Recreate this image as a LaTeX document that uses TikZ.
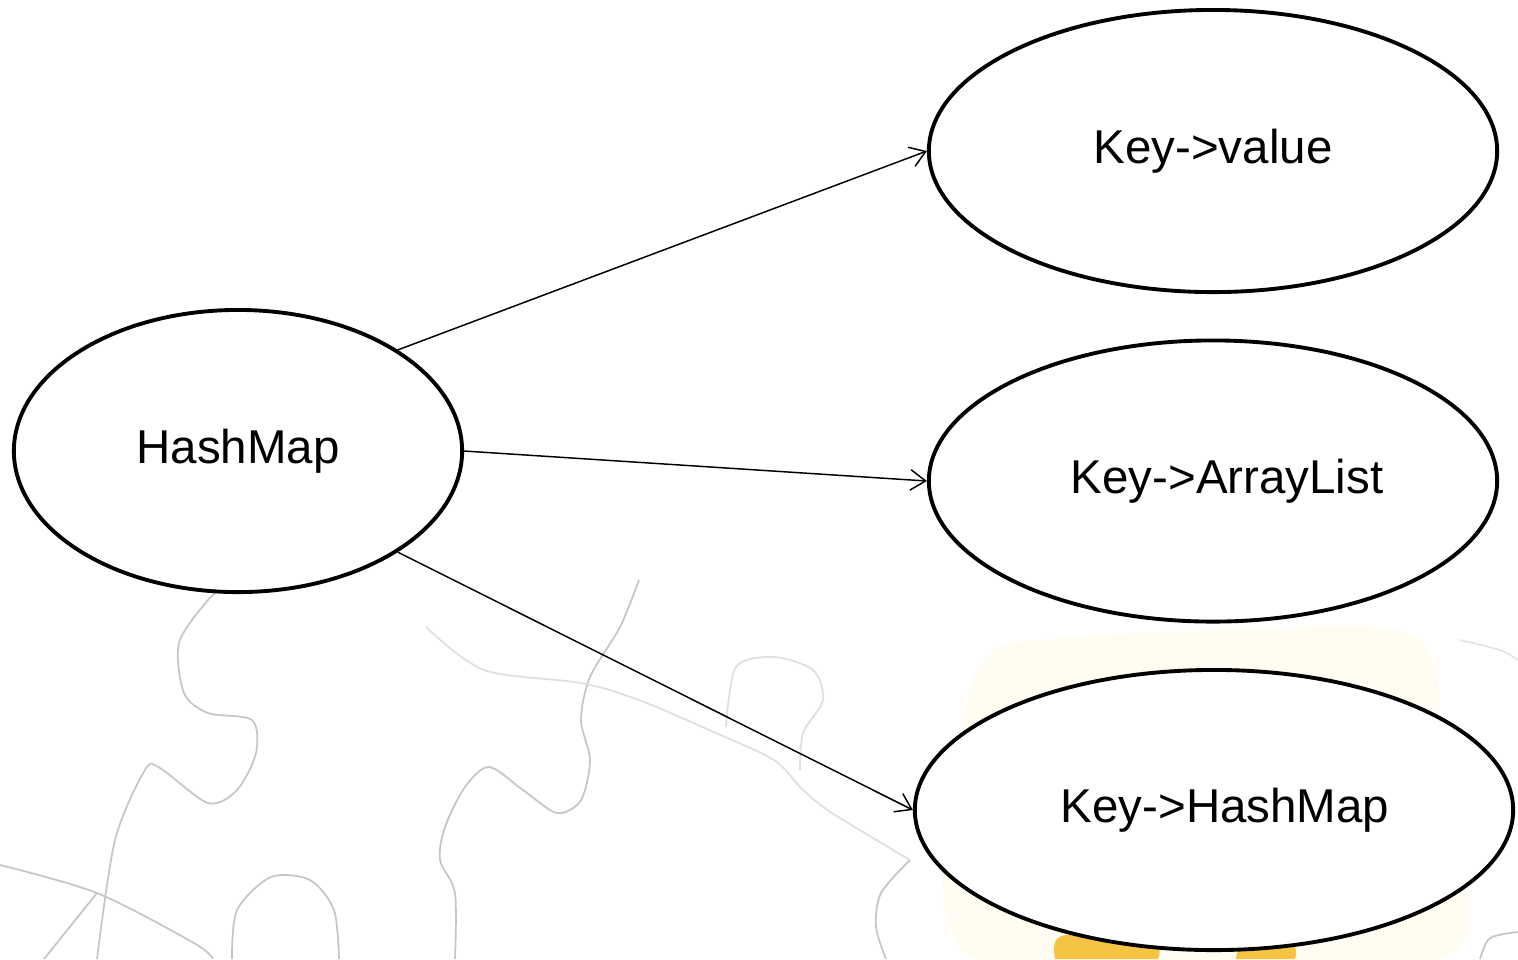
\documentclass[tikz,border=0pt]{standalone}
\usepackage{fontspec}
\setmainfont{Liberation Sans}
\usetikzlibrary{shapes.geometric, arrows.meta}
\definecolor{gold}{RGB}{245,196,66}

\begin{document}
\begin{tikzpicture} [x=0.01cm, y=-0.01cm,
    mapnode/.style = {ellipse, draw, line width=1.1pt, fill=white, inner sep=0pt,
                      font=\fontsize{13.5}{16}\selectfont},
    link/.style = {-{Straight Barb[length=4.3pt, width=5.8pt]}, line width=0.42pt},
    piece/.style = {gray!45, line width=0.5pt}]
    \useasboundingbox (0,0) rectangle (1518,959);

    % faint puzzle in the background
    \fill[yellow!50!orange, opacity=0.05] plot[smooth cycle] coordinates {(965,720) (990,655) (1040,640) (1230,630) (1420,640) (1440,800) (1440,959) (975,959)};
    \fill[gold] (1055,959) .. controls (1050,930) and (1065,935) .. (1090,935) -- (1140,935) .. controls (1160,935) and (1162,950) .. (1158,959) -- cycle;
    \fill[gold] (1236,959) .. controls (1236,945) and (1250,940) .. (1265,940) -- (1280,940) .. controls (1295,940) and (1298,950) .. (1295,959) -- cycle;
    \draw[piece] plot[smooth] coordinates {(97,959) (115,840) (145,770) (160,768) (208,803) (237,790) (256,753) (252,720) (208,713) (184,693) (179,643) (208,600) (232,580)};
    \draw[piece] plot[smooth] coordinates {(455,959) (455,893) (440,860) (445,827) (465,787) (489,767) (523,790) (557,813) (581,800) (590,760) (581,720) (590,677) (620,627) (639,580)};
    \draw[piece] plot[smooth] coordinates {(0,865) (97,893) (194,943) (213,959)};
    \draw[piece] plot[smooth] coordinates {(44,959) (97,893)};
    \draw[piece] plot[smooth] coordinates {(232,959) (237,910) (271,877) (310,880) (334,910) (339,959)};
    \draw[piece, gray!25] plot[smooth] coordinates {(426,627) (484,670) (581,683) (639,700) (716,733) (774,760) (803,790) (832,813) (910,860)};
    \draw[piece, gray!25] plot[smooth] coordinates {(726,727) (736,667) (774,657) (813,670) (823,700) (803,733) (800,770)};
    \draw[piece] plot[smooth] coordinates {(910,860) (881,893) (876,927) (886,959)};
    \draw[piece] plot[smooth] coordinates {(1480,959) (1490,938) (1518,932)};
    \draw[piece, gray!20] plot[smooth] coordinates {(1460,640) (1500,650) (1518,660)};

    \node (hm) [mapnode, minimum width=4.48cm, minimum height=2.82cm] at (238,451) {HashMap};
    \node (kv) [mapnode, minimum width=5.68cm, minimum height=2.82cm] at (1213,151) {Key->value};
    \node (ka) [mapnode, minimum width=5.68cm, minimum height=2.81cm] at (1213,481) {\hspace{0.28cm}Key->ArrayList};
    \node (kh) [mapnode, minimum width=5.98cm, minimum height=2.80cm] at (1214,810) {\hspace{0.22cm}Key->HashMap};

    \draw[link] (hm.north east) -- (kv.west);
    \draw[link] (hm.east) -- (ka.west);
    \draw[link] (hm.south east) -- (kh.west);
\end{tikzpicture}
\end{document}
